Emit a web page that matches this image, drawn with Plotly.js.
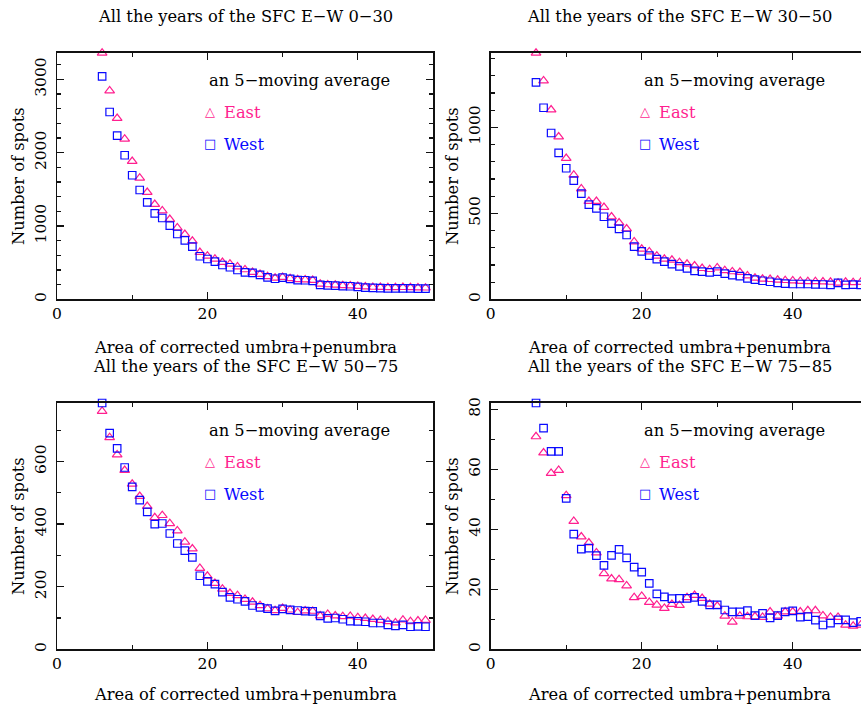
<!DOCTYPE html>
<html>
<head>
<meta charset="utf-8">
<script src="https://cdn.plot.ly/plotly-3.0.1.min.js"></script>
<style>html,body{margin:0;padding:0;background:#fff;}#chart{width:861px;height:709px;}</style>
</head>
<body>
<div id="chart"></div>
<script>
// ---- data: area of corrected umbra+penumbra (x) ----
const area = [6,7,8,9,10,11,12,13,14,15,16,17,18,19,20,21,22,23,24,25,26,27,28,29,30,31,32,33,34,35,36,37,38,39,40,41,42,43,44,45,46,47,48,49];

// panel titles
const panelTitles = ["All the years of the SFC E\u2212W 0\u221230", "All the years of the SFC E\u2212W 30\u221250",
                     "All the years of the SFC E\u2212W 50\u221275", "All the years of the SFC E\u2212W 75\u221285"];
const xTitle = "Area of corrected umbra+penumbra";
const yTitle = "Number of spots";
const noteText = "an 5\u2212moving average";
const seriesNames = ["East", "West"];

// latitude band 0-30
const east0_30 = [3360,2846,2469,2187,1883,1655,1460,1296,1209,1091,977,887,795,641,591,550,505,482,445,405,370,343,310,290,302,284,270,268,260,210,200,196,188,186,178,170,166,164,160,162,163,160,158,156];
const west0_30 = [3042,2555,2232,1965,1692,1491,1323,1173,1109,1004,891,805,718,587,550,513,468,437,400,366,360,332,300,280,295,278,262,260,250,198,190,186,180,178,170,158,155,152,150,150,148,148,146,145];
// latitude band 30-50
const east30_50 = [1432,1271,1102,945,820,723,643,570,570,535,480,445,410,335,292,277,252,234,228,214,205,195,180,174,184,168,161,157,137,124,118,116,112,110,108,105,104,104,102,100,95,100,98,99];
const west30_50 = [1262,1114,967,851,762,690,614,550,529,480,440,409,374,306,279,254,234,219,204,192,180,165,161,157,161,149,141,135,122,114,108,102,95,91,89,89,89,87,86,84,95,84,85,84];
// latitude band 50-75
const east50_75 = [761,677,622,572,528,489,457,421,428,402,379,343,321,259,234,211,193,179,172,160,151,140,130,124,131,126,118,123,122,107,112,107,105,106,102,99,96,93,89,85,94,89,91,93];
const west50_75 = [787,691,642,581,519,477,439,400,402,370,338,315,294,235,217,208,183,166,160,153,140,134,130,123,129,126,124,122,121,107,99,100,96,90,89,88,84,84,78,75,78,72,73,72];
// latitude band 75-85
const east75_85 = [70.9,65.5,58.7,59.7,51.3,42.7,37.5,35.5,32.2,25.3,23.5,23.3,21.2,17.3,17.7,15.7,14.8,13.7,15.0,14.7,17.3,18.0,17.0,15.1,14.4,11.1,9.1,11.1,10.9,10.9,10.7,12.5,11.1,12.5,12.5,12.5,12.9,12.9,11.2,10.7,10.7,8.1,7.8,8.1];
const west75_85 = [82.1,73.7,66.0,66.0,50.3,38.4,33.4,33.7,31.2,28.0,31.3,33.3,30.5,27.4,25.7,22.0,18.5,17.5,16.9,17.0,17.0,17.3,16.0,14.8,14.8,13.1,12.5,12.5,12.9,11.2,12.0,10.5,11.2,12.5,12.8,10.7,10.9,9.7,8.1,8.7,9.8,9.8,8.9,9.3];

// y tick spacing per panel (major, minor) and axis ranges
const yMajor = [1000, 500, 200, 20];
const yMinor = [200, 100, 100, 10];
const yMax = [3364, 1434, 788, 82.2];

// ---- styling ----
const EAST = "#ff1f8f", WEST = "#0a0aff";
const FONT = "DejaVu Serif";
const TXT = 16.3;
const W = 861, H = 709;
const px = v => v / W, py = v => 1 - v / H;

const bands = [[east0_30, west0_30], [east30_50, west30_50], [east50_75, west50_75], [east75_85, west75_85]];
const traces = [];
bands.forEach((b, i) => {
  const xa = i === 0 ? "x" : "x" + (i + 1), ya = i === 0 ? "y" : "y" + (i + 1);
  traces.push({x: area, y: b[0], xaxis: xa, yaxis: ya, type: "scatter", mode: "markers", name: seriesNames[0],
    cliponaxis: false, showlegend: false,
    marker: {symbol: "triangle-up-open", size: 8.5, color: EAST, line: {width: 1.2, color: EAST}}});
  traces.push({x: area, y: b[1], xaxis: xa, yaxis: ya, type: "scatter", mode: "markers", name: seriesNames[1],
    cliponaxis: false, showlegend: false,
    marker: {symbol: "square-open", size: 7.5, color: WEST, line: {width: 1.2, color: WEST}}});
});

// panel frame geometry (pixels)
const leftX = [57, 490.7, 57, 490.7], rightX = [433, 861, 433, 861];
const topY = [52.7, 52.7, 402.7, 402.7], botY = [299.3, 299.3, 649.3, 649.3];
const xMax = [50, 49.04, 50, 49.04];

const layout = {
  width: W, height: H, margin: {l: 0, r: 0, t: 0, b: 0}, showlegend: false,
  paper_bgcolor: "#fff", plot_bgcolor: "#fff",
  font: {family: FONT, size: 15, color: "#000"},
  annotations: []
};
for (let i = 0; i < 4; i++) {
  const sfx = i === 0 ? "" : String(i + 1);
  const right = (i === 1 || i === 3);
  layout["xaxis" + sfx] = {
    domain: [px(leftX[i]), px(rightX[i])], range: [0, xMax[i]], anchor: "y" + sfx,
    showgrid: false, zeroline: false, showline: true, linecolor: "#111", linewidth: 1.5, mirror: "ticks",
    ticks: "inside", ticklen: 7, tickwidth: 1.3, tickcolor: "#111", tick0: 0, dtick: 20,
    minor: {dtick: 10, ticks: "inside", ticklen: 4, tickwidth: 1.2, tickcolor: "#111"},
    tickfont: {family: FONT, size: 15.5, color: "#000"}, fixedrange: true
  };
  layout["yaxis" + sfx] = {
    domain: [py(botY[i]), py(topY[i])], range: [0, yMax[i]], anchor: "x" + sfx,
    showgrid: false, zeroline: false, showline: true, linecolor: "#111", linewidth: 1.5, mirror: right ? false : "ticks",
    ticks: "inside", ticklen: 7, tickwidth: 1.3, tickcolor: "#111", tick0: 0, dtick: yMajor[i], tickangle: -90,
    ticklabelstandoff: 3,
    minor: {dtick: yMinor[i], ticks: "inside", ticklen: 4, tickwidth: 1.2, tickcolor: "#111"},
    tickfont: {family: FONT, size: 15.5, color: "#000"}, fixedrange: true
  };
  const cx = (leftX[i] + (right ? 868.2 : 433)) / 2;
  const titleY = i < 2 ? 17 : 366;
  const xtY = i < 2 ? 347 : 694;
  const midY = (topY[i] + botY[i]) / 2;
  const ytX = right ? 452 : 18;
  const A = layout.annotations;
  A.push({text: panelTitles[i], xref: "paper", yref: "paper", x: px(cx), y: py(titleY), xanchor: "center", yanchor: "middle",
          showarrow: false, font: {family: FONT, size: TXT, color: "#000"}});
  A.push({text: xTitle, xref: "paper", yref: "paper", x: px(cx), y: py(xtY), xanchor: "center", yanchor: "middle",
          showarrow: false, font: {family: FONT, size: TXT, color: "#000"}});
  A.push({text: yTitle, xref: "paper", yref: "paper", x: px(ytX), y: py(midY), xanchor: "center", yanchor: "middle",
          textangle: -90, showarrow: false, font: {family: FONT, size: TXT, color: "#000"}});
  // in-panel key
  const xr = i === 0 ? "x" : "x" + (i + 1);
  const base = topY[i];
  A.push({text: noteText, xref: xr, yref: "paper", x: 20, y: py(base + 27.5), xanchor: "left", yanchor: "middle",
          showarrow: false, font: {family: FONT, size: TXT, color: "#000"}});
  A.push({text: "\u25B3", xref: xr, yref: "paper", x: 20.4, y: py(base + 58.5), xanchor: "center", yanchor: "middle",
          showarrow: false, font: {family: "DejaVu Sans", size: 13, color: EAST}});
  A.push({text: seriesNames[0], xref: xr, yref: "paper", x: 22, y: py(base + 59.5), xanchor: "left", yanchor: "middle",
          showarrow: false, font: {family: FONT, size: TXT, color: EAST}});
  A.push({text: "\u25A1", xref: xr, yref: "paper", x: 20.4, y: py(base + 90.5), xanchor: "center", yanchor: "middle",
          showarrow: false, font: {family: "DejaVu Sans", size: 13, color: WEST}});
  A.push({text: seriesNames[1], xref: xr, yref: "paper", x: 22, y: py(base + 91.5), xanchor: "left", yanchor: "middle",
          showarrow: false, font: {family: FONT, size: TXT, color: WEST}});
}

Plotly.newPlot("chart", traces, layout, {staticPlot: true, displayModeBar: false});
</script>
</body>
</html>
